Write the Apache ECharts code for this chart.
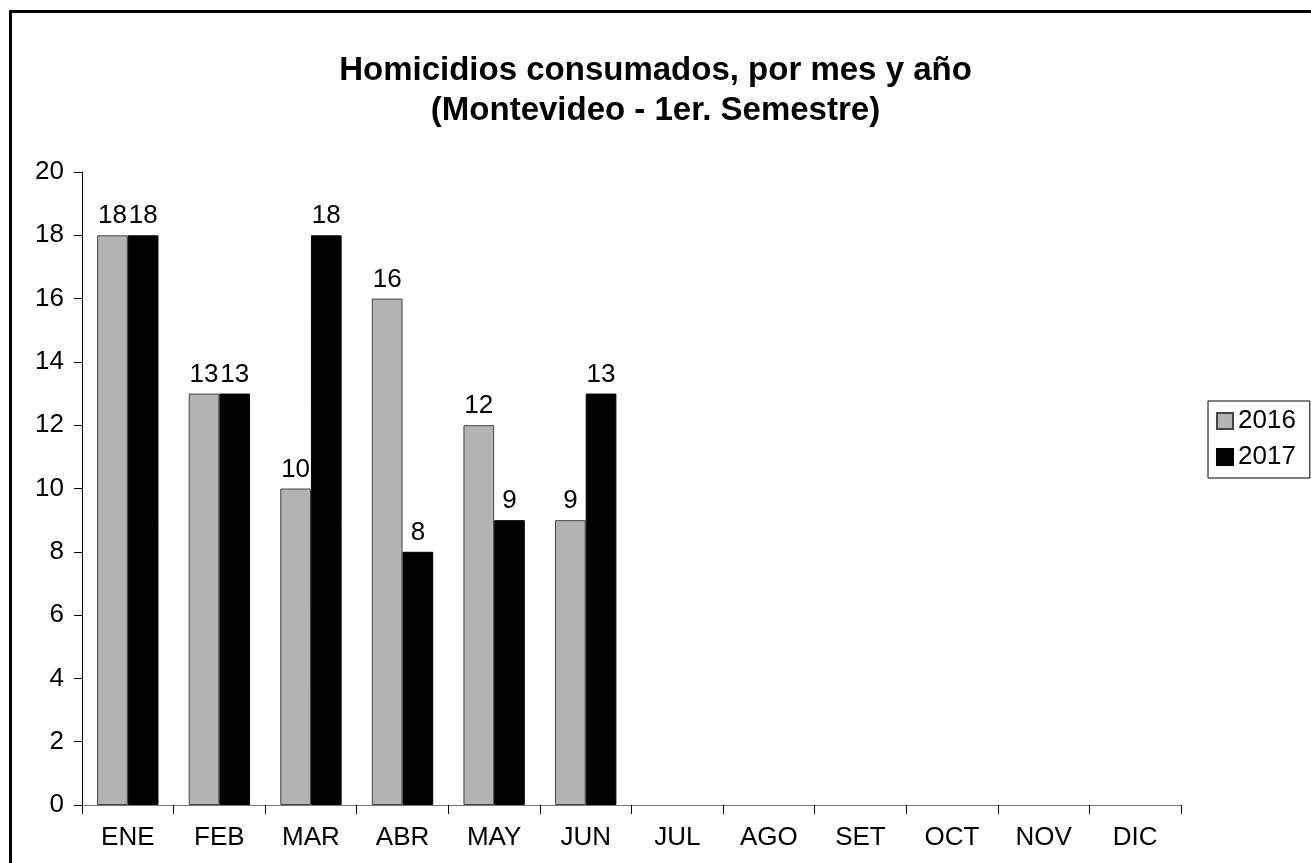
<!DOCTYPE html>
<html>
<head>
<meta charset="utf-8">
<script src="https://cdn.jsdelivr.net/npm/echarts@6/dist/echarts.min.js"></script>
<style>
  html, body { margin: 0; padding: 0; background: #fff; }
  #chart { width: 1311px; height: 863px; }
</style>
</head>
<body>
<div id="chart"></div>
<script>
// data
const months = ['ENE', 'FEB', 'MAR', 'ABR', 'MAY', 'JUN', 'JUL', 'AGO', 'SET', 'OCT', 'NOV', 'DIC']
const y2016 = [18, 13, 10, 16, 12, 9, null, null, null, null, null, null]
const y2017 = [18, 13, 18, 8, 9, 13, null, null, null, null, null, null]

const font = 'Liberation Sans, Arial, sans-serif'

const chart = echarts.init(document.getElementById('chart'))

const barLabel = {
  show: true,
  position: 'top',
  distance: 6,
  color: '#000',
  fontFamily: font,
  fontSize: 26,
}

chart.setOption({
  animation: false,
  backgroundColor: '#fff',
  graphic: [
    {
      type: 'rect',
      shape: { x: 10.5, y: 11.5, width: 1500, height: 1000 },
      style: { fill: 'none', stroke: '#000', lineWidth: 3 },
      silent: true,
    },
  ],
  title: {
    text: 'Homicidios consumados, por mes y año\n(Montevideo - 1er. Semestre)',
    left: 'center',
    top: 46,
    textStyle: {
      fontFamily: font,
      fontSize: 33,
      fontWeight: 'bold',
      color: '#000',
      lineHeight: 40,
    },
  },
  legend: {
    orient: 'vertical',
    left: 1208,
    top: 401,
    padding: [7, 14, 8, 8],
    itemGap: 10,
    itemWidth: 16,
    itemHeight: 16,
    icon: 'rect',
    borderColor: '#000',
    borderWidth: 1,
    borderRadius: 0,
    textStyle: { fontFamily: font, fontSize: 26, color: '#000' },
    data: ['2016', '2017'],
  },
  grid: {
    left: 82,
    right: 130,
    top: 172,
    bottom: 58,
    containLabel: false,
  },
  xAxis: {
    type: 'category',
    data: months,
    boundaryGap: true,
    axisLine: { lineStyle: { color: '#777', width: 1 } },
    axisTick: { show: true, alignWithLabel: false, length: 9, lineStyle: { color: '#000' } },
    axisLabel: { color: '#000', fontFamily: font, fontSize: 26, margin: 20, interval: 0 },
    splitLine: { show: false },
  },
  yAxis: {
    type: 'value',
    min: 0,
    max: 20,
    interval: 2,
    axisLine: { show: true, lineStyle: { color: '#000', width: 1 } },
    axisTick: { show: true, length: 8, lineStyle: { color: '#000' } },
    axisLabel: { color: '#000', fontFamily: font, fontSize: 26, margin: 18 },
    splitLine: { show: false },
  },
  series: [
    {
      name: '2016',
      type: 'bar',
      data: y2016,
      barGap: '0%',
      barCategoryGap: '33%',
      itemStyle: { color: '#b3b3b3', borderColor: '#444', borderWidth: 1 },
      label: barLabel,
    },
    {
      name: '2017',
      type: 'bar',
      data: y2017,
      itemStyle: { color: '#000', borderColor: '#000', borderWidth: 1 },
      label: barLabel,
    },
  ],
})
</script>
</body>
</html>
